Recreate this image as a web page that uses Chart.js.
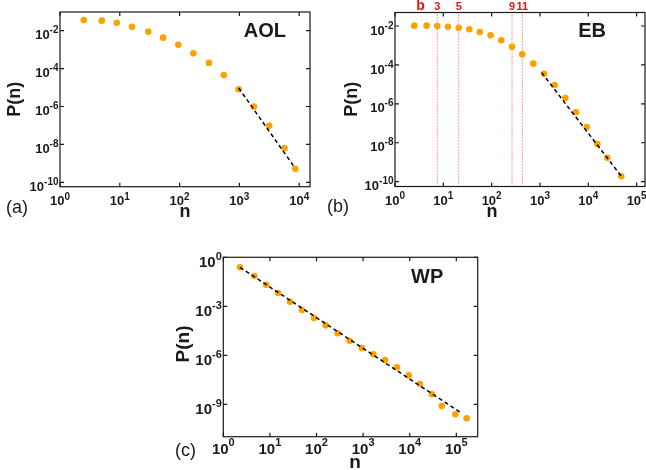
<!DOCTYPE html>
<html>
<head>
<meta charset="utf-8">
<script src="https://cdn.jsdelivr.net/npm/chart.js@4.4.1/dist/chart.umd.min.js"></script>
<style>
  body { margin: 0; background: #fff; width: 646px; height: 470px; position: relative; overflow: hidden; }
  canvas { position: absolute; }
</style>
</head>
<body>
<canvas id="aolChart" width="323" height="230" style="left:0;top:0;width:323px;height:230px"></canvas>
<canvas id="ebChart" width="323" height="230" style="left:323px;top:0;width:323px;height:230px"></canvas>
<canvas id="wpChart" width="330" height="235" style="left:160px;top:235px;width:330px;height:235px"></canvas>
<script>
// (a) AOL
const aolN = [2.5, 5, 8.9, 16, 30, 53, 95, 170, 310, 550, 970, 1750, 3160, 5700, 8600];
const aolP = [0.037, 0.034, 0.026, 0.016, 0.0089, 0.0043, 0.0018, 6.4e-4, 2.0e-4, 4.6e-5, 8.1e-6, 9.8e-7, 9.7e-8, 6.5e-9, 5.2e-10];
const aolFitN = [973, 8500];
const aolFitP = [9.5e-6, 5.8e-10];
const aolXTicks = [0, 1, 2, 3, 4];
const aolYTicks = [-2, -4, -6, -8, -10];

// (b) EB
const ebN = [2.5, 4.5, 7.5, 12.5, 20.8, 34.5, 57, 95, 158, 264, 431, 728, 1210, 2010, 3340, 5560, 9260, 15350, 24700, 48100];
const ebP = [0.0104, 0.0104, 0.0100, 0.0092, 0.0082, 0.0068, 0.0049, 0.0033, 0.00184, 8.6e-4, 3.5e-4, 1.16e-4, 3.5e-5, 9.3e-6, 2.0e-6, 3.7e-7, 6.5e-8, 8.6e-9, 1.7e-9, 1.9e-10];
const ebFitN = [1084, 49000];
const ebFitP = [4.0e-5, 1.8e-10];
const ebMarkN = [7.5, 20.8, 264, 431];
const ebMarkLabels = ['3', '5', '9', '11'];
const ebXTicks = [0, 1, 2, 3, 4, 5];
const ebYTicks = [-2, -4, -6, -8, -10];

// (c) WP
const wpN = [2.28, 4.63, 8.37, 14.9, 27, 48.8, 88.4, 157, 285, 515, 933, 1656, 2950, 5340, 9520, 16600, 30100, 48600, 95300, 167000];
const wpP = [0.244, 0.0718, 0.0211, 0.00656, 0.00192, 5.98e-4, 1.94e-4, 6.9e-5, 2.25e-5, 7.9e-6, 2.84e-6, 1.17e-6, 5.2e-7, 1.87e-7, 6.1e-8, 1.78e-8, 4.2e-9, 8.0e-10, 2.5e-10, 1.42e-10];
const wpFitN = [2.28, 130600];
const wpFitP = [0.244, 2.9e-10];
const wpXTicks = [0, 1, 2, 3, 4, 5];
const wpYTicks = [0, -3, -6, -9];

const ORANGE = '#ffa200';
const INK = '#1a1a1a';
const FONT = '"Liberation Sans", Arial, Helvetica, sans-serif';

function pts(xs, ys) { return xs.map((x, i) => ({ x: x, y: ys[i] })); }

function drawPow(ctx, x, y, exp, s, align) {
  ctx.font = 'bold ' + s.base + 'px ' + FONT;
  const w1 = ctx.measureText('10').width;
  ctx.font = 'bold ' + s.sup + 'px ' + FONT;
  const e = String(exp);
  const w2 = ctx.measureText(e).width;
  const x0 = align === 'right' ? x - w1 - w2 : x - (w1 + w2) / 2;
  ctx.textAlign = 'left';
  ctx.textBaseline = 'alphabetic';
  ctx.font = 'bold ' + s.base + 'px ' + FONT;
  ctx.fillText('10', x0, y);
  ctx.font = 'bold ' + s.sup + 'px ' + FONT;
  ctx.fillText(e, x0 + w1, y - s.raise);
}

function framePlugin(c) {
  return {
    id: 'frame',
    afterDraw(chart) {
      const ctx = chart.ctx, a = chart.chartArea;
      const xs = chart.scales.x, ys = chart.scales.y;
      ctx.save();
      ctx.strokeStyle = INK;
      ctx.lineWidth = 1.2;
      ctx.strokeRect(a.left, a.top, a.right - a.left, a.bottom - a.top);
      ctx.beginPath();
      c.xTicks.forEach(e => {
        const px = xs.getPixelForValue(Math.pow(10, e));
        ctx.moveTo(px, a.bottom); ctx.lineTo(px, a.bottom - 4);
        ctx.moveTo(px, a.top); ctx.lineTo(px, a.top + 4);
      });
      c.yTicks.forEach(e => {
        const py = ys.getPixelForValue(Math.pow(10, e));
        ctx.moveTo(a.left, py); ctx.lineTo(a.left + 4, py);
        ctx.moveTo(a.right, py); ctx.lineTo(a.right - 4, py);
      });
      ctx.stroke();

      ctx.fillStyle = INK;
      c.xTicks.forEach(e => {
        drawPow(ctx, xs.getPixelForValue(Math.pow(10, e)), a.bottom + c.xLab.dy, e, c.xLab, 'center');
      });
      c.yTicks.forEach(e => {
        drawPow(ctx, a.left - 1.5, ys.getPixelForValue(Math.pow(10, e)) + c.yLab.dy, e, c.yLab, 'right');
      });

      // axis titles
      ctx.font = 'bold ' + c.titleSize + 'px ' + FONT;
      ctx.textAlign = 'center';
      ctx.textBaseline = 'alphabetic';
      ctx.fillText('n', c.nPos[0], c.nPos[1]);
      ctx.save();
      ctx.translate(c.pPos[0], c.pPos[1]);
      ctx.rotate(-Math.PI / 2);
      ctx.textBaseline = 'middle';
      ctx.fillText('P(n)', 0, 0);
      ctx.restore();

      // dataset name
      ctx.font = 'bold 20px ' + FONT;
      ctx.textAlign = 'right';
      ctx.fillText(c.name, a.right - c.nameOff[0], a.top + c.nameOff[1]);

      // panel letter
      ctx.font = '18px ' + FONT;
      ctx.textAlign = 'left';
      ctx.fillText(c.letter, c.letterPos[0], c.letterPos[1]);

      if (c.marks) {
        ctx.fillStyle = '#ee1111';
        ctx.textAlign = 'center';
        ctx.font = 'bold 11px ' + FONT;
        c.marks.forEach((n, i) => ctx.fillText(c.markLabels[i], xs.getPixelForValue(n), 9.5));
        ctx.font = 'bold 14px ' + FONT;
        ctx.fillText('b', xs.getPixelForValue(3.37), 10);
      }
      ctx.restore();
    }
  };
}

function makeChart(id, pad, xLim, yLim, datasets, cfg) {
  return new Chart(document.getElementById(id), {
    type: 'scatter',
    data: { datasets: datasets },
    options: {
      responsive: false,
      animation: false,
      layout: { padding: pad, autoPadding: false },
      plugins: { legend: { display: false }, tooltip: { enabled: false } },
      scales: {
        x: { type: 'logarithmic', min: xLim[0], max: xLim[1], display: false },
        y: { type: 'logarithmic', min: yLim[0], max: yLim[1], display: false }
      }
    },
    plugins: [framePlugin(cfg)]
  });
}

function dots(xs, ys) {
  return { data: pts(xs, ys), pointRadius: 3.3, pointBackgroundColor: ORANGE, pointBorderWidth: 0, showLine: false, order: 1 };
}
function fit(xs, ys) {
  return { data: pts(xs, ys), showLine: true, borderColor: '#000', borderWidth: 1.5, borderDash: [4, 3], pointRadius: 0, order: 0 };
}

const smallLab = { base: 13, sup: 10 };

makeChart('aolChart', { left: 60, top: 12, right: 13, bottom: 43.3 },
  [1, Math.pow(10, 4.181)], [Math.pow(10, -10.232), Math.pow(10, -1.013)],
  [fit(aolFitN, aolFitP), dots(aolN, aolP)],
  { xTicks: aolXTicks, yTicks: aolYTicks,
    xLab: Object.assign({ dy: 18.3, raise: 5.5 }, smallLab),
    yLab: Object.assign({ dy: 8.6, raise: 6 }, smallLab),
    titleSize: 18, nPos: [185, 217], pPos: [15, 99.3],
    name: 'AOL', nameOff: [24, 24.7], letter: '(a)', letterPos: [6, 213] });

const ebVLines = ebMarkN.map(n => ({
  data: [{ x: n, y: Math.pow(10, -10.248) }, { x: n, y: Math.pow(10, -1.306) }],
  showLine: true, borderColor: '#ff3030', borderWidth: 1, borderDash: [1, 2], pointRadius: 0, order: 2
}));

makeChart('ebChart', { left: 72, top: 12.5, right: 1, bottom: 43.5 },
  [1, Math.pow(10, 5.173)], [Math.pow(10, -10.248), Math.pow(10, -1.306)],
  [fit(ebFitN, ebFitP), dots(ebN, ebP)].concat(ebVLines),
  { xTicks: ebXTicks, yTicks: ebYTicks,
    xLab: Object.assign({ dy: 18.3, raise: 5.5 }, smallLab),
    yLab: Object.assign({ dy: 8.6, raise: 6 }, smallLab),
    titleSize: 18, nPos: [169, 216.7], pPos: [28.7, 99.3],
    name: 'EB', nameOff: [39, 24], letter: '(b)', letterPos: [4, 212],
    marks: ebMarkN, markLabels: ebMarkLabels });

makeChart('wpChart', { left: 63.3, top: 22.3, right: 12.3, bottom: 33.3 },
  [1, Math.pow(10, 5.459)], [Math.pow(10, -10.972), 1],
  [fit(wpFitN, wpFitP), dots(wpN, wpP)],
  { xTicks: wpXTicks, yTicks: wpYTicks,
    xLab: { base: 15, sup: 11, dy: 17.3, raise: 8 },
    yLab: { base: 15, sup: 11, dy: 9.4, raise: 7 },
    titleSize: 19, nPos: [195, 233], pPos: [23.3, 109],
    name: 'WP', nameOff: [34.4, 26], letter: '(c)', letterPos: [15, 221] });
</script>
</body>
</html>
